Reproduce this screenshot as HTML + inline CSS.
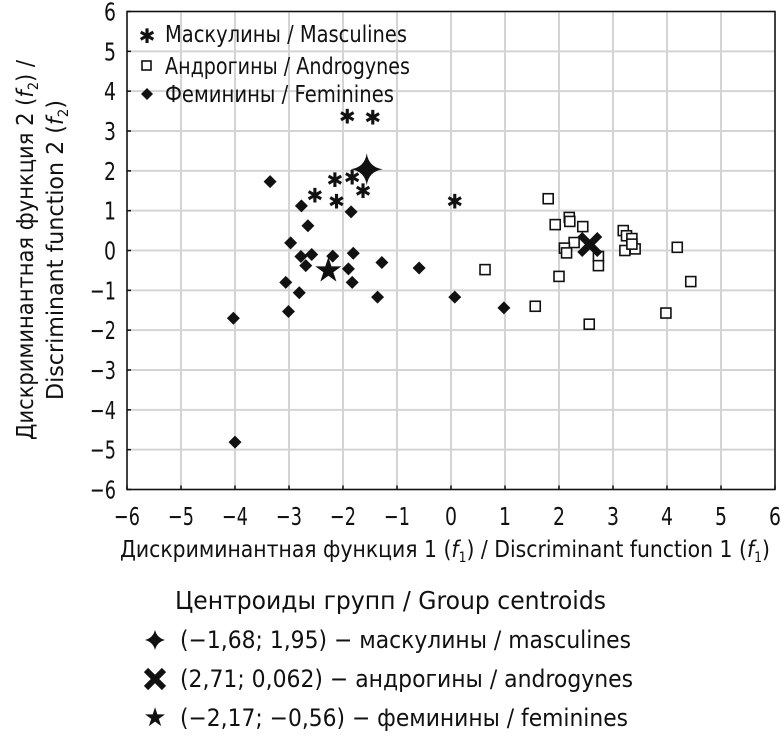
<!DOCTYPE html>
<html><head><meta charset="utf-8"><style>
html,body{margin:0;padding:0;background:#fff;width:784px;height:736px;overflow:hidden}
svg{display:block}
text{font-family:"DejaVu Sans","Liberation Sans",sans-serif;fill:#111}
</style></head><body>
<svg id="chart" width="784" height="736" viewBox="0 0 784 736">
<g id="grid"></g>
<g id="axes"></g>
<g id="marks"></g>
<g>
 <g>
  <text x="147" y="43" font-size="20" font-weight="bold" text-anchor="middle">✱</text>
  <text x="165" y="42" font-size="23" textLength="242" lengthAdjust="spacingAndGlyphs">Маскулины / Masculines</text></g>
 <g>
  <rect x="142" y="61" width="9" height="9" fill="none" stroke="#111" stroke-width="1.6"/>
  <text x="165" y="74" font-size="23" textLength="245" lengthAdjust="spacingAndGlyphs">Андрогины / Androgynes</text></g>
 <g>
  <path d="M147 88 L153 94 L147 100 L141 94Z" fill="#111"/>
  <text x="165" y="102" font-size="23" textLength="229" lengthAdjust="spacingAndGlyphs">Феминины / Feminines</text></g>
</g>
<text x="120" y="557" font-size="23" textLength="650" lengthAdjust="spacingAndGlyphs">Дискриминантная функция 1 (<tspan font-style="italic">f</tspan><tspan font-size="14" dy="5">1</tspan><tspan dy="-5">) / Discriminant function 1 (</tspan><tspan font-style="italic">f</tspan><tspan font-size="14" dy="5">1</tspan><tspan dy="-5">)</tspan></text>
<g transform="translate(0,250) rotate(-90)">
 <text x="-190" y="33" font-size="23" textLength="380" lengthAdjust="spacingAndGlyphs">Дискриминантная функция 2 (<tspan font-style="italic">f</tspan><tspan font-size="14" dy="5">2</tspan><tspan dy="-5">) /</tspan></text>
 <text x="-150" y="63" font-size="23" textLength="300" lengthAdjust="spacingAndGlyphs">Discriminant function 2 (<tspan font-style="italic">f</tspan><tspan font-size="14" dy="5">2</tspan><tspan dy="-5">)</tspan></text>
</g>
<g>
 <text x="175" y="609" font-size="25" textLength="431" lengthAdjust="spacingAndGlyphs">Центроиды групп / Group centroids</text>
 <g>
  <path d="M155 630 Q157 638 165 640 Q157 642 155 650 Q153 642 145 640 Q153 638 155 630Z" fill="#111"/>
  <text x="180" y="648" font-size="24" textLength="451" lengthAdjust="spacingAndGlyphs">(−1,68; 1,95) − маскулины / masculines</text></g>
 <g>
  <path d="M146 670 L155 679 L164 670 M146 688 L155 679 L164 688" stroke="#111" stroke-width="6" fill="none"/>
  <text x="180" y="687" font-size="24" textLength="453" lengthAdjust="spacingAndGlyphs">(2,71; 0,062) − андрогины / androgynes</text></g>
 <g>
  <text x="155" y="726" font-size="26" text-anchor="middle">★</text>
  <text x="180" y="726" font-size="24" textLength="448" lengthAdjust="spacingAndGlyphs">(−2,17; −0,56) − феминины / feminines</text></g>
</g>
</svg>
<script>
const xTicks=[-6,-5,-4,-3,-2,-1,0,1,2,3,4,5,6];
const yTicks=[-6,-5,-4,-3,-2,-1,0,1,2,3,4,5,6];
const mascX=[-1.92,-1.45,-2.15,-1.83,-1.63,-2.52,-2.12,0.07];
const mascY=[3.39,3.37,1.79,1.86,1.52,1.41,1.25,1.25];
const androX=[1.80,2.19,2.20,1.93,2.44,2.28,2.10,2.14,2.73,2.73,3.19,3.25,3.35,3.22,3.41,3.35,4.19,4.44,3.98,2.56,2.0,1.56,0.63];
const androY=[1.3,0.83,0.73,0.65,0.6,0.2,0.06,-0.06,-0.15,-0.38,0.5,0.37,0.3,0,0.04,0.16,0.08,-0.78,-1.57,-1.85,-0.65,-1.4,-0.48];
const femX=[-3.35,-2.77,-1.85,-2.65,-2.97,-2.78,-2.58,-2.69,-2.19,-1.81,-1.90,-1.83,-1.28,-0.59,-3.06,-2.81,-1.36,0.07,-3.01,-4.03,-4.0,0.98];
const femY=[1.73,1.12,0.97,0.62,0.19,-0.15,-0.1,-0.38,-0.14,-0.07,-0.46,-0.8,-0.3,-0.44,-0.8,-1.06,-1.17,-1.17,-1.53,-1.7,-4.81,-1.44];
const centroidX=[-1.56,2.57,-2.27];
const centroidY=[2.04,0.15,-0.5];
const NS='http://www.w3.org/2000/svg';
const X0=127,X1=775,Y0=489.5,Y1=11.5;
function sx(v){return X0+(v+6)/12*(X1-X0);}
function sy(v){return Y0-(v+6)/12*(Y0-Y1);}
function mk(tag,attrs,parent){const e=document.createElementNS(NS,tag);for(const k in attrs)e.setAttribute(k,attrs[k]);parent.appendChild(e);return e;}
const grid=document.getElementById('grid'),axes=document.getElementById('axes'),marks=document.getElementById('marks');
function lbl(t){return (t<0?'−':'')+Math.abs(t);}
xTicks.forEach(t=>{
 const l=mk('line',{x1:sx(t),x2:sx(t),y1:Y1,y2:Y0,stroke:'#d4d4d4','stroke-width':2},grid);
 
 
 const tk=mk('line',{x1:sx(t),x2:sx(t),y1:Y0,y2:Y0-4,stroke:'#111','stroke-width':1.5},axes);
 
 
 const s=lbl(t);
 const tx=mk('text',{x:sx(t),y:525,'font-size':25,'text-anchor':'middle',textLength:s.length>1?26:12,lengthAdjust:'spacingAndGlyphs'},axes);
 tx.textContent=s;
 
 
});
yTicks.forEach(t=>{
 const l=mk('line',{x1:X0,x2:X1,y1:sy(t),y2:sy(t),stroke:'#d4d4d4','stroke-width':2},grid);
 
 
 const tk=mk('line',{x1:X0,x2:X0+4,y1:sy(t),y2:sy(t),stroke:'#111','stroke-width':1.5},axes);
 
 
 const s=lbl(t);
 const tx=mk('text',{x:116,y:sy(t)+9,'font-size':25,'text-anchor':'end',textLength:s.length>1?26:12,lengthAdjust:'spacingAndGlyphs'},axes);
 tx.textContent=s;
 
 
});
const fr=mk('rect',{x:X0,y:Y1,width:X1-X0,height:Y0-Y1,fill:'none',stroke:'#111','stroke-width':1.5},axes);


mascX.forEach((v,i)=>{
 const t=mk('text',{x:sx(v),y:sy(mascY[i])+8,'font-size':20,'font-weight':'bold','text-anchor':'middle'},marks);
 t.textContent='✱';
 
 
});
androX.forEach((v,i)=>{
 const r=mk('rect',{x:sx(v)-5,y:sy(androY[i])-5,width:10,height:10,fill:'#fff',stroke:'#111','stroke-width':1.6},marks);
 
 
});
femX.forEach((v,i)=>{
 const x=sx(v),y=sy(femY[i]);
 const p=mk('path',{d:`M${x} ${y-6.5}L${x+6.5} ${y}L${x} ${y+6.5}L${x-6.5} ${y}Z`,fill:'#111'},marks);
 
 
});
{
 const x=sx(centroidX[0]),y=sy(centroidY[0]);
 const p=mk('path',{d:`M${x} ${y-16}Q${x+2} ${y-2} ${x+16} ${y}Q${x+2} ${y+2} ${x} ${y+16}Q${x-2} ${y+2} ${x-16} ${y}Q${x-2} ${y-2} ${x} ${y-16}Z`,fill:'#111'},marks);
 
 
}
{
 const x=sx(centroidX[1]),y=sy(centroidY[1]);
 const p=mk('path',{d:`M${x-10} ${y-10}L${x+10} ${y+10}M${x-10} ${y+10}L${x+10} ${y-10}`,stroke:'#111','stroke-width':7,fill:'none'},marks);
 
 
}
{
 const x=sx(centroidX[2]),y=sy(centroidY[2]);
 const t=mk('text',{x:x,y:y+11,'font-size':34,'text-anchor':'middle'},marks);
 t.textContent='★';
 
 
}
</script>
</body></html>
